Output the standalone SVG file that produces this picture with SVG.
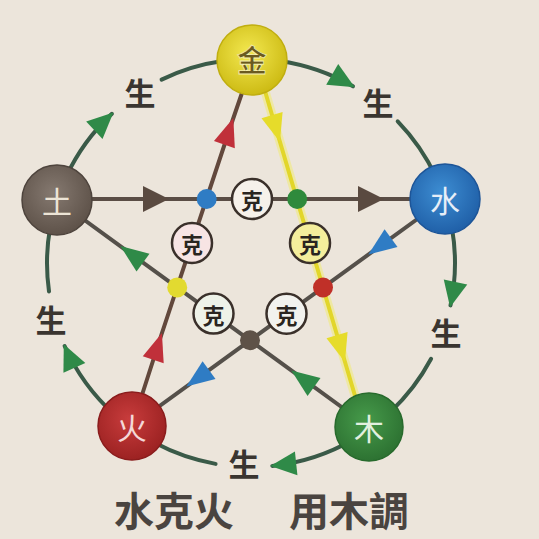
<svg xmlns="http://www.w3.org/2000/svg" width="539" height="539" viewBox="0 0 539 539">
<style>
.arc{fill:none;stroke:#3a5a48;stroke-width:4;stroke-linecap:round}
.edge{fill:none;stroke-width:4;stroke-linejoin:round}
.sheng{font-family:"Noto Sans CJK TC","Noto Sans CJK SC",sans-serif;font-size:31px;font-weight:bold;fill:#3a3530;text-anchor:middle;dominant-baseline:central}
.ke{font-family:"Noto Sans CJK TC","Noto Sans CJK SC",sans-serif;font-size:22px;font-weight:bold;fill:#2a2520;text-anchor:middle;dominant-baseline:central}
.kec{stroke:#3a302a;stroke-width:2.5}
.nt{font-family:"Noto Sans CJK TC","Noto Sans CJK SC",sans-serif;font-size:30px;text-anchor:middle;dominant-baseline:central}
.title{font-family:"Noto Sans CJK TC","Noto Sans CJK SC",sans-serif;font-size:40px;font-weight:bold;fill:#4a4440}
</style>
<defs>
<marker id="ag" viewBox="-26 -13 29 26" refX="0" refY="0" markerWidth="29" markerHeight="26" markerUnits="userSpaceOnUse" orient="auto"><path d="M2,0 L-24,-12 L-24,12 Z" fill="#2f8a48"/></marker>
<marker id="ab" viewBox="-26 -14 29 28" refX="0" refY="0" markerWidth="29" markerHeight="28" markerUnits="userSpaceOnUse" orient="auto"><path d="M2,0 L-24,-13 L-24,13 Z" fill="#5a4a40"/></marker>
<marker id="ar" viewBox="-28 -13 31 26" refX="0" refY="0" markerWidth="31" markerHeight="26" markerUnits="userSpaceOnUse" orient="auto"><path d="M2,0 L-26,-11 L-26,11 Z" fill="#c0303a"/></marker>
<marker id="ay" viewBox="-28 -13 31 26" refX="0" refY="0" markerWidth="31" markerHeight="26" markerUnits="userSpaceOnUse" orient="auto"><path d="M2,0 L-26,-11 L-26,11 Z" fill="#e6dc2a"/></marker>
<marker id="abl" viewBox="-28 -13 31 26" refX="0" refY="0" markerWidth="31" markerHeight="26" markerUnits="userSpaceOnUse" orient="auto"><path d="M2,0 L-26,-11 L-26,11 Z" fill="#2f7cc4"/></marker>
<marker id="agr" viewBox="-28 -13 31 26" refX="0" refY="0" markerWidth="31" markerHeight="26" markerUnits="userSpaceOnUse" orient="auto"><path d="M2,0 L-26,-11 L-26,11 Z" fill="#2f8a48"/></marker>
<radialGradient id="gGold" cx="0.45" cy="0.4" r="0.6"><stop offset="0" stop-color="#f3e850"/><stop offset="1" stop-color="#cdbb14"/></radialGradient>
<radialGradient id="gEarth" cx="0.45" cy="0.4" r="0.6"><stop offset="0" stop-color="#857970"/><stop offset="1" stop-color="#5e5249"/></radialGradient>
<radialGradient id="gWater" cx="0.45" cy="0.4" r="0.6"><stop offset="0" stop-color="#3d8dd2"/><stop offset="1" stop-color="#2060a8"/></radialGradient>
<radialGradient id="gFire" cx="0.45" cy="0.4" r="0.6"><stop offset="0" stop-color="#c83c3c"/><stop offset="1" stop-color="#9c2222"/></radialGradient>
<radialGradient id="gWood" cx="0.45" cy="0.4" r="0.6"><stop offset="0" stop-color="#469a4a"/><stop offset="1" stop-color="#2d7232"/></radialGradient>
</defs>
<rect width="539" height="539" fill="#ece5db"/>
<g id="connectors">
<path class="arc" d="M279.4,61 A204,204 0 0 1 353,86.3" marker-end="url(#ag)"/>
<path class="arc" d="M397.7,121.3 A204,204 0 0 1 435.9,176.8"/>
<path class="arc" d="M451.9,227.6 A204,204 0 0 1 450.5,305.4" marker-end="url(#ag)"/>
<path class="arc" d="M431.1,358.8 A204,204 0 0 1 390.1,412.2"/>
<path class="arc" d="M353,439.7 A204,204 0 0 1 272.3,465.9" marker-end="url(#ag)"/>
<path class="arc" d="M215.6,463.9 A204,204 0 0 1 155.2,443.1"/>
<path class="arc" d="M114.5,414.6 A204,204 0 0 1 64.6,346" marker-end="url(#ag)"/>
<path class="arc" d="M49,291.4 A204,204 0 0 1 50.1,227.6"/>
<path class="arc" d="M66.1,176.8 A204,204 0 0 1 111.9,113.8" marker-end="url(#ag)"/>
<path class="arc" d="M161.6,79.6 A204,204 0 0 1 222.6,61"/>
<path class="edge" stroke="#5a4d45" d="M57,199 L167,199 L382,199 L445,199" marker-mid="url(#ab)"/>
<path class="edge" stroke="#62483c" d="M132,426 L161.3,335 L232.7,120 L246.4,80" marker-mid="url(#ar)"/>
<path fill="none" stroke="#f2ea60" stroke-opacity="0.45" stroke-width="9" d="M263.2,85 L359.2,410"/>
<path class="edge" stroke="#e2d62a" stroke-width="3.5" d="M263.2,85 L279.4,140 L344.4,360 L359.2,410" marker-mid="url(#ay)"/>
<path class="edge" stroke="#55504a" d="M445,199 L370,253.4 L188,385.4 L132,426" marker-mid="url(#abl)"/>
<path class="edge" stroke="#55504a" d="M369,427 L293,371.7 L122,247.3 L57,200" marker-mid="url(#agr)"/>
</g>
<g id="sheng-labels">
<text class="sheng" x="140" y="91">生</text>
<text class="sheng" x="378" y="101">生</text>
<text class="sheng" x="446" y="331">生</text>
<text class="sheng" x="244" y="462">生</text>
<text class="sheng" x="51" y="318">生</text>
</g>
<g id="junctions">
<circle cx="206.7" cy="199" r="10" fill="#2f7cc4"/>
<circle cx="297.2" cy="199" r="10" fill="#2f8a3c"/>
<circle cx="323" cy="287.5" r="10" fill="#c03028"/>
<circle cx="250" cy="340.2" r="10" fill="#5e5248"/>
<circle cx="177.2" cy="287.4" r="10" fill="#e2da30"/>
</g>
<g id="ke-labels">
<g id="ke-top"><circle class="kec" cx="252" cy="199" r="20" fill="#f6f1ea"/><text class="ke" x="252" y="199">克</text></g>
<g id="ke-left"><circle class="kec" cx="192" cy="243" r="20" fill="#f7e4e4"/><text class="ke" x="192" y="243">克</text></g>
<g id="ke-right"><circle class="kec" cx="310" cy="243" r="20" fill="#f4ee9c" stroke="#a89a30"/><text class="ke" x="310" y="243">克</text></g>
<g id="ke-bl"><circle class="kec" cx="213.5" cy="313.6" r="20" fill="#eef2e8"/><text class="ke" x="213.5" y="313.6">克</text></g>
<g id="ke-br"><circle class="kec" cx="286.5" cy="313.8" r="20" fill="#f2f2ee"/><text class="ke" x="286.5" y="313.8">克</text></g>
</g>
<g id="node-jin"><circle cx="252" cy="60" r="35" fill="url(#gGold)" stroke="#c0ae10" stroke-width="1.5"/><text class="nt" x="252" y="58" fill="#6a5a20" font-weight="bold" stroke="#f6f0b0" stroke-width="0.8">金</text></g>
<g id="node-tu"><circle cx="57" cy="200" r="35" fill="url(#gEarth)" stroke="#4e443d" stroke-width="1.5"/><text class="nt" x="57" y="200" fill="#ece4d6">土</text></g>
<g id="node-shui"><circle cx="445" cy="199" r="35" fill="url(#gWater)" stroke="#1d5598" stroke-width="1.5"/><text class="nt" x="445" y="199" fill="#e6eef8">水</text></g>
<g id="node-huo"><circle cx="132" cy="426" r="34" fill="url(#gFire)" stroke="#8a1c1c" stroke-width="1.5"/><text class="nt" x="132" y="426" fill="#f4d8d8">火</text></g>
<g id="node-mu"><circle cx="369" cy="427" r="34" fill="url(#gWood)" stroke="#276a2c" stroke-width="1.5"/><text class="nt" x="369" y="427" fill="#e2f0e0">木</text></g>
<g id="title">
<text class="title" x="114" y="526">水克火</text>
<text class="title" x="289" y="526">用木調</text>
</g>
</svg>
